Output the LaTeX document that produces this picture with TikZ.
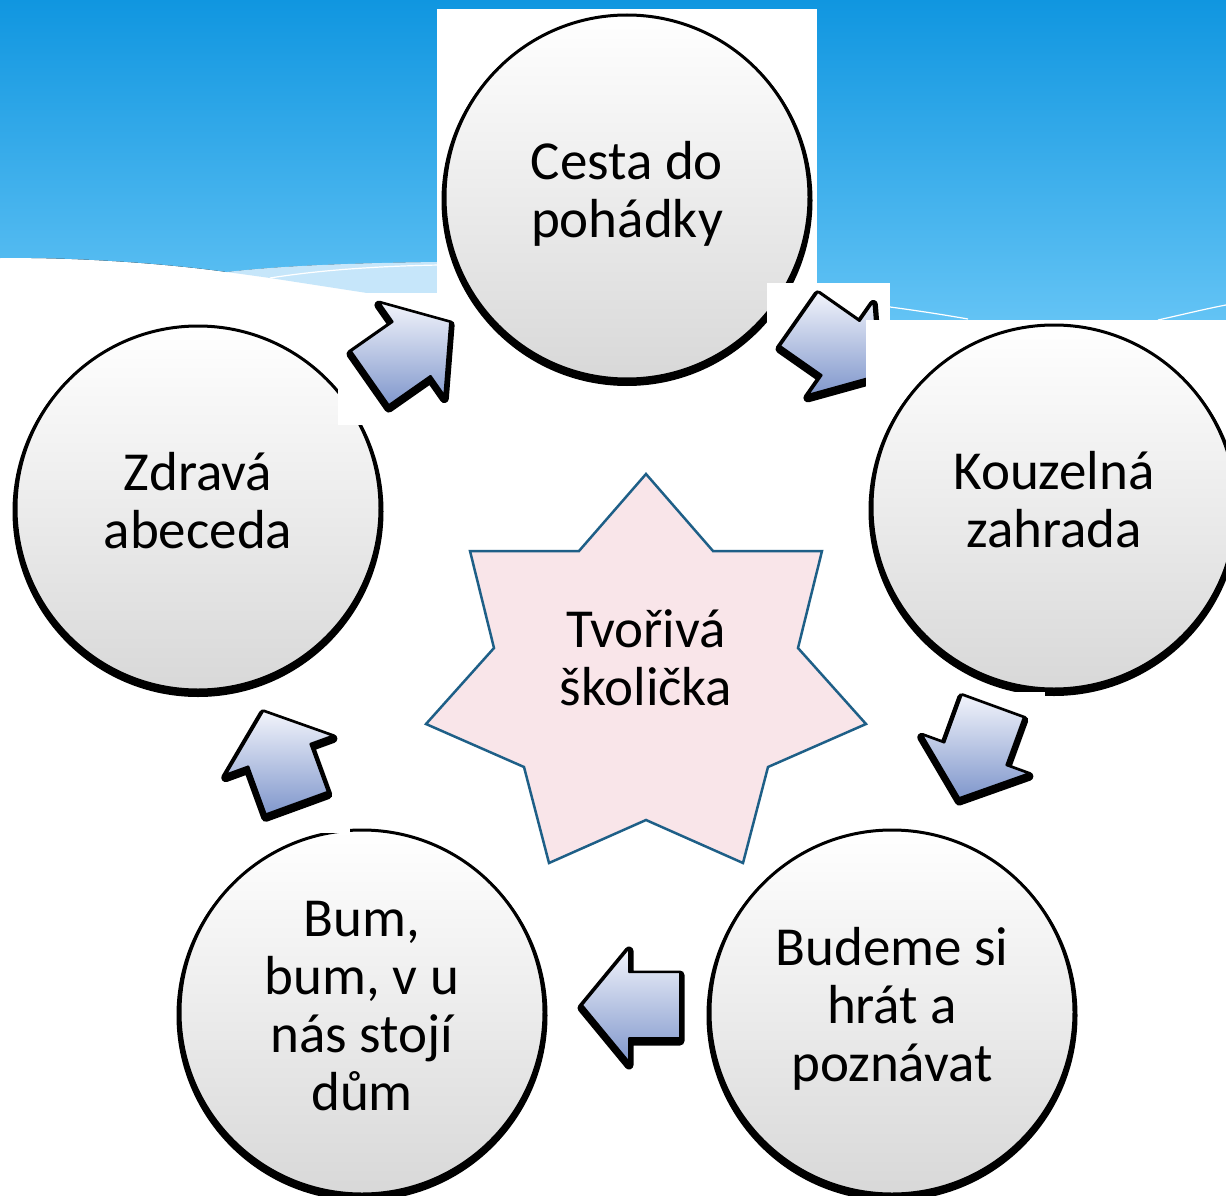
\documentclass[tikz,border=0pt]{standalone}
\usepackage{fontspec}
\setmainfont{Carlito}
\definecolor{skytop}{RGB}{16,150,224}
\definecolor{skybot}{RGB}{104,198,246}
\definecolor{bandblue}{RGB}{198,230,250}
\definecolor{circbot}{RGB}{216,216,216}
\definecolor{arrtop}{RGB}{242,244,251}
\definecolor{arrbot}{RGB}{128,151,204}
\definecolor{starfill}{RGB}{249,229,233}
\definecolor{stardraw}{RGB}{30,95,135}
\tikzset{
  bubble/.style={circle, minimum size=364pt, inner sep=0pt, draw=black, line width=3pt,
    top color=white, bottom color=circbot, font=\fontsize{55}{58}\selectfont},
  bubbleshadow/.style={fill=black},
  artbox/.style={fill=white},
  arrowbody/.style={draw=black, line width=2pt, line join=round, top color=arrtop, bottom color=arrbot},
  arrowshade/.style={fill=black, draw=black, line width=9pt, line join=round},
  startext/.style={font=\fontsize{55}{58}\selectfont, inner sep=0pt},
  waveline/.style={draw=white, line width=1.2pt}
}
\newcommand{\arrang}{0}
\newcommand{\ap}[2]{({(#1)*cos(\arrang)-(#2)*sin(\arrang)},{(#1)*sin(\arrang)+(#2)*cos(\arrang)})}
\newcommand{\arrowpath}{\ap{49}{0} -- \ap{2}{57} -- \ap{2}{33} -- \ap{-49}{33} -- \ap{-49}{-33} -- \ap{2}{-33} -- \ap{2}{-57} -- cycle}
% #1 name, #2 cx, #3 cy, #4 angle (pixel frame, y down)
\newcommand{\blockarr}[4]{%
  \renewcommand{\arrang}{#4}%
  \coordinate (#1) at (#2,#3);
  \filldraw[arrowshade, shift={(#2,{#3+3})}] \arrowpath;
  \filldraw[arrowbody, shift={(#2,#3)}] \arrowpath;
}
% #1 name, #2 cx, #3 cy, #4 text
\newcommand{\bubblenode}[4]{%
  \fill[bubbleshadow] (#2,{#3+3.5}) circle (185.5pt);
  \node[bubble] (#1) at (#2,#3) {\begin{tabular}{@{}c@{}}#4\end{tabular}};
}
\begin{document}
\begin{tikzpicture}[x=1pt,y=-1pt]
\useasboundingbox (0,0) rectangle (1226,1196);
\fill[white] (0,0) rectangle (1226,1196);
% sky
\fill[top color=skytop, bottom color=skybot]
  (0,0) -- (1226,0) -- (1226,340) -- (440,340) -- (440,262)
  .. controls (350,263) and (280,266) .. (227,272)
  .. controls (170,264) and (80,257) .. (0,258) -- cycle;
\fill[bandblue] (227,272) .. controls (280,266) and (350,263) .. (440,262)
  -- (440,306) -- (367,293) -- (270,278) -- cycle;
\draw[waveline] (270,278) .. controls (320,270) and (380,266) .. (440,265);
\draw[waveline] (890,307) .. controls (920,311) and (945,315) .. (968,319);
\draw[waveline] (1158,320) .. controls (1185,314) and (1205,309) .. (1226,305);

% 1: Cesta do pohadky
\fill[artbox] (437,9) rectangle (817,392);
\bubblenode{c1}{627}{197}{Cesta do\\pohádky}
% arrow 1
\fill[artbox] (767,283) rectangle (890,412);
\blockarr{a1}{839}{347}{35}
% 2: Kouzelna zahrada
\fill[artbox] (866,320) rectangle (1226,693);
\bubblenode{c2}{1054}{507}{Kouzelná\\zahrada}
% arrow 2
\fill[artbox] (905,692) rectangle (1045,815);
\blockarr{a2}{976}{752}{110}
% 3: Budeme si hrat a poznavat
\fill[artbox] (705,826) rectangle (1080,1196);
\bubblenode{c3}{892}{1012}{Budeme si\\hrát a\\poznávat}
% arrow 3
\fill[artbox] (570,940) rectangle (692,1075);
\blockarr{a3}{631}{1005}{180}
% 4: Bum
\fill[artbox] (175,826) rectangle (552,1196);
\bubblenode{c4}{362}{1012}{Bum,\\bum, v u\\nás stojí\\dům}
% arrow 4
\fill[artbox] (215,705) rectangle (350,833);
\blockarr{a4}{280}{757}{-110}
% 5: Zdrava abeceda
\fill[artbox] (10,322) rectangle (386,697);
\bubblenode{c5}{198}{508}{Zdravá\\abeceda}
% arrow 5
\fill[artbox] (338,293) rectangle (460,425);
\blockarr{a5}{410}{350}{-35}

% centre star
\filldraw[fill=starfill, draw=stardraw, line width=2.5pt, line join=miter]
  (646,474) -- (713,551) -- (822,551) -- (798,648) -- (866,724) -- (768,767)
  -- (743,863) -- (646,820) -- (549,863) -- (524,767) -- (426,724) -- (494,648)
  -- (470,551) -- (579,551) -- cycle;
\node[startext] (centre) at (646,665) {\begin{tabular}{@{}c@{}}Tvořivá\\školička\end{tabular}};
\end{tikzpicture}
\end{document}
